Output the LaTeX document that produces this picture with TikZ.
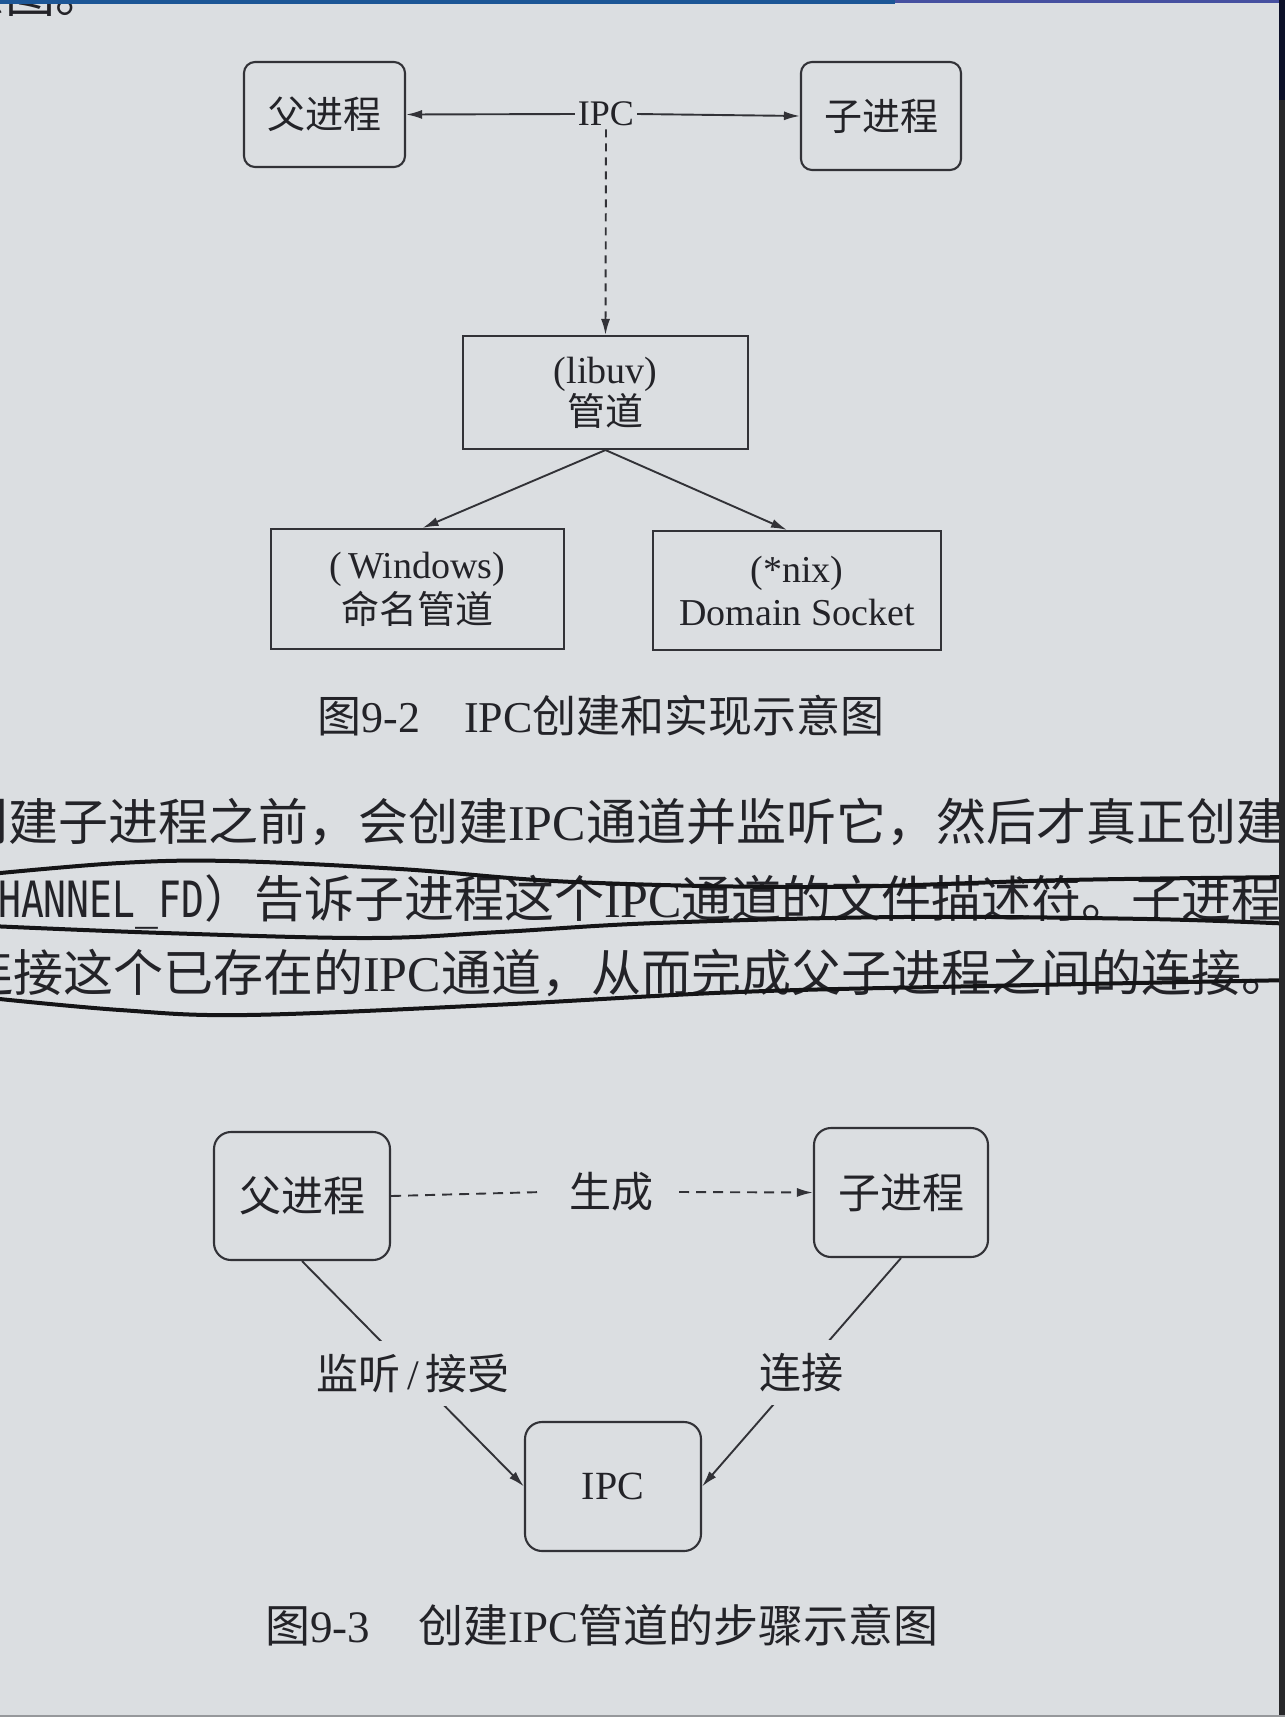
\documentclass[tikz,border=0pt]{standalone}
\usepackage{fontspec}
\setmainfont{Liberation Serif}
\newfontfamily\cjk{Noto Sans CJK SC}
\newfontfamily\condmono{DejaVu Sans Mono}[FakeStretch=0.76]
\usetikzlibrary{arrows.meta}
\definecolor{paper}{RGB}{219,222,225}
\definecolor{textc}{RGB}{35,35,40}
\definecolor{inkc}{RGB}{50,50,55}
\definecolor{penc}{RGB}{20,20,22}
\definecolor{barblue}{RGB}{28,86,150}
\definecolor{barviolet}{RGB}{70,80,160}
\definecolor{edgenavy}{RGB}{12,16,40}
\definecolor{edgedark}{RGB}{40,40,42}
\definecolor{edgegray}{RGB}{150,152,155}
\newcommand\fsz[2]{\fontsize{#1}{#2}\selectfont}
\begin{document}
\begin{tikzpicture}[x=1pt,y=-1pt,
  tbox/.style={draw=inkc, line width=2.1pt, text=textc, inner sep=0pt, align=center},
  lbl/.style={text=textc, inner sep=3pt},
  linec/.style={draw=inkc, line width=1.9pt},
  arr/.style={draw=inkc, line width=1.9pt, -{Latex[length=16pt,width=9pt]}},
  dshA/.style={dash pattern=on 8pt off 6pt},
  dshB/.style={dash pattern=on 10pt off 7pt},
  pen/.style={draw=penc, line width=4pt, line cap=round, line join=round},
  bodytext/.style={anchor=base west, inner sep=0pt, text=textc, font=\fsz{50}{56}},
]
\fill[paper] (0,0) rectangle (1285,1717);
\useasboundingbox (0,0) rectangle (1285,1717);
\begin{scope}
\clip (0,0) rectangle (1285,1717);

% partial line at the very top
\node[bodytext] (t0) at (-95,12) {{\cjk 示意图。}};

% ---------- figure 9-2 ----------
\node[tbox, rounded corners=11pt, minimum width=161pt, minimum height=105pt, font=\cjk\fsz{38}{44}] (p1) at (324.5,114.5) {父进程};
\node[tbox, rounded corners=11pt, minimum width=160pt, minimum height=108pt, font=\cjk\fsz{38}{44}] (c1) at (881,116) {子进程};
\node[lbl, font=\fsz{36}{40}] (ipc1) at (606,114) {IPC};
\node[tbox, minimum width=285pt, minimum height=113pt, font=\fsz{38}{42}] (lib) at (605.5,392.5) {(libuv)\\{\cjk 管道}};
\node[tbox, minimum width=293pt, minimum height=120pt, font=\fsz{38}{45}] (win) at (417.5,589) {(\,Windows)\\{\cjk 命名管道}};
\node[tbox, minimum width=288pt, minimum height=119pt, font=\fsz{38}{43}] (nix) at (797,590.5) {(*nix)\\Domain Socket};

\draw[arr] (ipc1.west) -- (p1.east);
\draw[arr] (ipc1.east) -- (c1.west);
\draw[arr, dshA] (ipc1.south) -- (lib.north);
\draw[arr] (lib.south) -- ([xshift=5pt]win.north);
\draw[arr] (lib.south) -- ([xshift=-10pt]nix.north);

\node[lbl, font=\fsz{44}{48}] (cap1) at (601,716) {{\cjk 图}9-2\hspace{44pt}IPC{\cjk 创建和实现示意图}};

% ---------- body text ----------
\node[bodytext] (l1) at (-42,840) {{\cjk 创建子进程之前，会创建}IPC{\cjk 通道并监听它，然后才真正创建}};
\node[bodytext] (l2) at (-2,917) {{\condmono HANNEL\_FD}{\cjk ）告诉子进程这个}IPC{\cjk 通道的文件描述符。子进程}};
\node[bodytext] (l3) at (-37,991) {{\cjk 连接这个已存在的}IPC{\cjk 通道，从而完成父子进程之间的连接。}};

% hand-drawn pen strokes
\draw[pen] plot[smooth, tension=0.6] coordinates {(-10,874) (120,863) (230,861) (400,869) (574,882) (820,887) (1066,880) (1295,877)};
\draw[pen] plot[smooth, tension=0.6] coordinates {(-10,926) (164,933) (369,938) (500,932) (656,923) (902,917) (1148,919) (1295,924)};
\draw[pen] plot[smooth, tension=0.6] coordinates {(-10,998) (120,1010) (246,1015) (492,1005) (738,992) (984,986) (1295,980)};

% ---------- figure 9-3 ----------
\node[tbox, rounded corners=17pt, minimum width=176pt, minimum height=128pt, font=\cjk\fsz{42}{46}] (p2) at (302,1196) {父进程};
\node[tbox, rounded corners=17pt, minimum width=174pt, minimum height=129pt, font=\cjk\fsz{42}{46}] (c2) at (901,1192.5) {子进程};
\node[lbl, font=\cjk\fsz{42}{46}, inner xsep=26pt] (gen) at (611,1192) {生成};
\node[tbox, rounded corners=17pt, minimum width=176pt, minimum height=129pt, font=\fsz{40}{44}] (ipc2) at (613,1486.5) {IPC};

\draw[linec, dshB] (p2.east) -- (gen.west);
\draw[arr, dshB] (gen.east) -- (c2.west);
\draw[arr] (p2.south) -- node[fill=paper, text=textc, font=\cjk\fsz{42}{46}, inner xsep=2pt, inner ysep=13pt] (lis) {监听{\rmfamily\,/\,}接受} (ipc2.west);
\draw[arr] (c2.south) -- node[fill=paper, text=textc, font=\cjk\fsz{42}{46}, inner xsep=2pt, inner ysep=13pt] (con) {连接} (ipc2.east);

\node[lbl, font=\fsz{45}{48}] (cap2) at (602,1625) {{\cjk 图}9-3\hspace{48pt}{\cjk 创建}IPC{\cjk 管道的步骤示意图}};

% ---------- photo edges ----------
\fill[barblue] (0,0) rectangle (895,4);
\fill[barviolet] (895,0) rectangle (1285,3);
\fill[edgenavy] (1279,0) rectangle (1285,100);
\fill[edgedark] (1279,100) rectangle (1285,1717);
\fill[edgegray] (0,1715) rectangle (1285,1717);
\end{scope}
\end{tikzpicture}
\end{document}
